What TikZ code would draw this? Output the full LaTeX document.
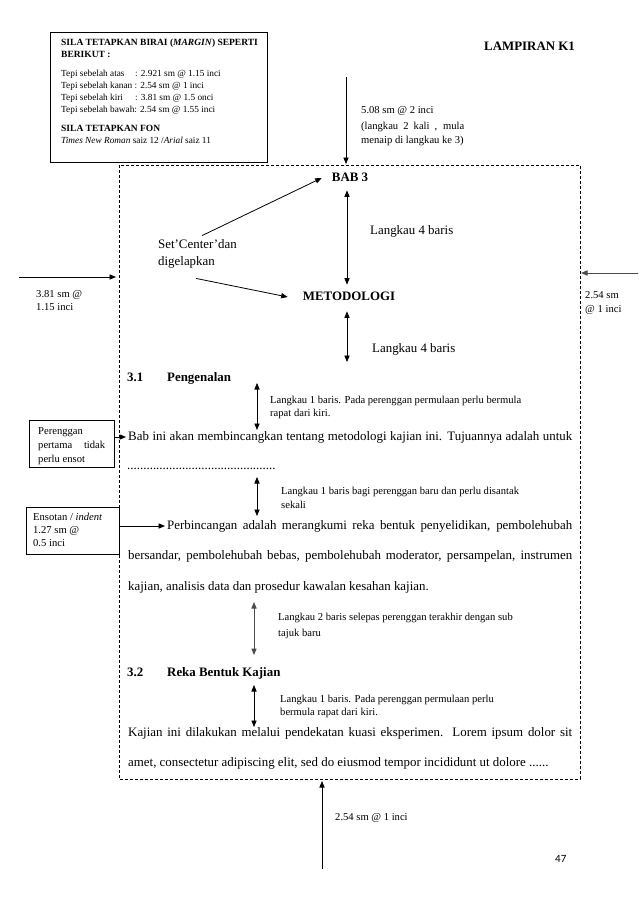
\documentclass[tikz,border=0pt]{standalone}
\usepackage{fontspec}
\setmainfont{Liberation Serif}
\newfontfamily\calfont{Carlito}
\usetikzlibrary{arrows.meta}
\tikzset{
  body/.style={inner sep=0pt, anchor=west, text height=9.4pt, text depth=3pt, font=\fontsize{12.9}{15}\selectfont},
  bodyb/.style={body, font=\fontsize{12.9}{15}\selectfont\bfseries},
  note/.style={inner sep=0pt, anchor=west, text height=7.6pt, text depth=2.4pt, font=\fontsize{10.6}{12}\selectfont},
  boxt/.style={inner sep=0pt, anchor=west, text height=6.8pt, text depth=2.2pt, font=\fontsize{9.3}{11}\selectfont},
  boxb/.style={boxt, font=\fontsize{9.5}{11}\selectfont\bfseries},
  tip/.tip={Triangle[length=6.5pt,width=5.2pt]},
  arr/.style={-tip, line width=0.8pt},
  darr/.style={tip-tip, line width=0.8pt},
  greyarr/.style={draw=black!70, fill=black!70, line width=1pt},
  frame/.style={line width=0.7pt, dash pattern=on 3pt off 2pt},
  plainbox/.style={draw, line width=0.8pt, inner sep=0pt, anchor=north west},
}
\begin{document}
\begin{tikzpicture}[x=1pt,y=-1pt]
\useasboundingbox[fill=white] (0,0) rectangle (638,903);

% dashed page frame
\coordinate (ftl) at (119,165);
\coordinate (fbr) at (580,779);
\draw[frame] (ftl) rectangle (fbr);

% margin box
\node[plainbox, minimum width=217pt, minimum height=130pt] (marginbox) at (50,32) {};
\node[boxb] (mb1) at (61,43) {SILA TETAPKAN BIRAI (\textit{MARGIN}) SEPERTI};
\node[boxb] (mb2) at (61,55) {BERIKUT :};
\node[boxt] (mb3) at (61,74) {\makebox[74pt][l]{Tepi sebelah atas}: 2.921 sm @ 1.15 inci};
\node[boxt] (mb4) at (61,86) {Tepi sebelah kanan : 2.54 sm @ 1 inci};
\node[boxt] (mb5) at (61,98) {\makebox[74pt][l]{Tepi sebelah kiri}: 3.81 sm @ 1.5 onci};
\node[boxt] (mb6) at (61,110) {Tepi sebelah bawah: 2.54 sm @ 1.55 inci};
\node[boxb] (mb7) at (61,129) {SILA TETAPKAN FON};
\node[boxt] (mb8) at (61,141) {\textit{Times New Roman} saiz 12 /\textit{Arial} saiz 11};

\node[bodyb] (lamp) at (484,47) {LAMPIRAN K1};

% top margin
\coordinate (topstart) at (346,77);
\coordinate (topend) at (346,164);
\draw[arr] (topstart) -- (topend);
\node[note] (t1) at (361,111) {5.08 sm @ 2 inci};
\node[note] (t2) at (361,127) {\makebox[103pt][s]{(langkau 2 kali , mula}};
\node[note] (t3) at (361,141) {menaip di langkau ke 3)};

% title
\node[bodyb, anchor=center] (bab3) at (350,178) {BAB 3};
\node[bodyb, anchor=center] (metod) at (349,297) {METODOLOGI};
\draw[darr] ([xshift=-3pt,yshift=-6pt]bab3.south) -- ([xshift=-2pt,yshift=6pt]metod.north);
\node[body] (lk4a) at (370,231) {Langkau 4 baris};

\node[body] (setc1) at (158,245) {Set’Center’dan};
\node[body] (setc2) at (158,262) {digelapkan};
\draw[arr] ([xshift=44pt,yshift=3pt]setc1.north west) -- ([xshift=-10pt]bab3.west);
\draw[arr] ([xshift=38pt,yshift=-10pt]setc2.south west) -- ([xshift=-15pt]metod.west);

% left margin
\coordinate (lstart) at (19,277);
\coordinate (lend) at (116,277);
\draw[arr] (lstart) -- (lend);
\node[note] (l1) at (36,295) {3.81 sm @};
\node[note] (l2) at (36,308) {1.15 inci};

% right margin
\coordinate (rstart) at (638,273);
\coordinate (rend) at (581,273);
\draw[arr, greyarr] (rstart) -- (rend);
\node[note] (r1) at (585,296) {2.54 sm};
\node[note] (r2) at (585,310) {@ 1 inci};

\draw[darr] ([xshift=-2pt,yshift=-8pt]metod.south) -- (347,362);
\node[body] (lk4b) at (372,349) {Langkau 4 baris};

% 3.1
\node[bodyb] (s31) at (127,378) {3.1};
\node[bodyb] (pengenalan) at (167,378) {Pengenalan};
\node[note] (n3a) at (270,401) {Langkau 1 baris. Pada perenggan permulaan perlu bermula};
\node[note] (n3b) at (270,414) {rapat dari kiri.};

\node[body] (bab1) at (128,437) {\makebox[444pt][s]{Bab ini akan membincangkan tentang metodologi kajian ini. Tujuannya adalah untuk}};
\draw[darr] (257,383) -- (257,430);
\node[body] (dots) at (127,466) {..............................................};

\node[note] (n4a) at (281,492) {Langkau 1 baris bagi perenggan baru dan perlu disantak};
\node[note] (n4b) at (281,506) {sekali};
\draw[darr] (257,477) -- (257,516);

\node[body] (perb1) at (167,526) {\makebox[405pt][s]{Perbincangan adalah merangkumi reka bentuk penyelidikan, pembolehubah}};
\node[body] (perb2) at (128,556) {\makebox[444pt][s]{bersandar, pembolehubah bebas, pembolehubah moderator, persampelan, instrumen}};
\node[body] (perb3) at (128,587) {kajian, analisis data dan prosedur kawalan kesahan kajian.};

% side boxes
\node[plainbox, minimum width=85pt, minimum height=47pt] (pbox) at (29,420) {};
\node[note] (p1) at (38,432) {Perenggan};
\node[note] (p2) at (38,446) {\makebox[67pt][s]{pertama tidak}};
\node[note] (p3) at (38,460) {perlu ensot};
\draw[arr] (pbox.east |- bab1.west) -- ([xshift=-2pt]bab1.west);

\node[plainbox, minimum width=93pt, minimum height=47pt] (ebox) at (26,507) {};
\node[note] (e1) at (33,518) {Ensotan / \textit{indent}};
\node[note] (e2) at (33,531) {1.27 sm @};
\node[note] (e3) at (33,544) {0.5 inci};
\draw[arr] (ebox.east |- perb1.west) -- ([xshift=-2pt]perb1.west);

% 3.2
\draw[darr, greyarr] (254,602) -- (254,655);
\node[note] (n5a) at (278,618) {Langkau 2 baris selepas perenggan terakhir dengan sub};
\node[note] (n5b) at (278,634) {tajuk baru};

\node[bodyb] (s32) at (127,673) {3.2};
\node[bodyb] (reka) at (167,673) {Reka Bentuk Kajian};
\draw[darr] (254,685) -- (254,727);
\node[note] (n6a) at (280,700) {Langkau 1 baris. Pada perenggan permulaan perlu};
\node[note] (n6b) at (280,713) {bermula rapat dari kiri.};

\node[body] (kaj1) at (128,733) {\makebox[444pt][s]{Kajian ini dilakukan melalui pendekatan kuasi eksperimen. Lorem ipsum dolor sit}};
\node[body] (kaj2) at (128,763) {amet, consectetur adipiscing elit, sed do eiusmod tempor incididunt ut dolore ......};

% bottom margin
\coordinate (bstart) at (322,869);
\coordinate (bend) at (322,781);
\draw[arr] (bstart) -- (bend);
\node[note] (b1) at (335,818) {2.54 sm @ 1 inci};

\node[inner sep=0pt, anchor=west, font=\fontsize{11}{13}\selectfont\calfont] (pg) at (555,859) {47};
\end{tikzpicture}
\end{document}
